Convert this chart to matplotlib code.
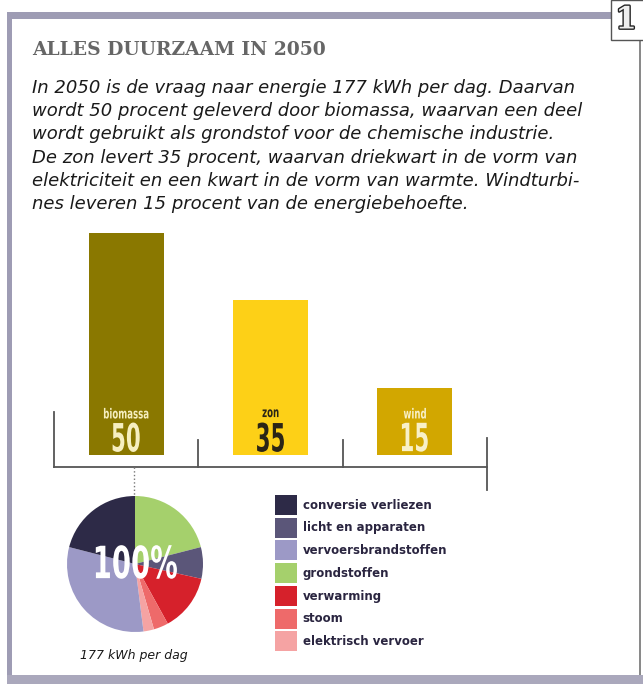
import matplotlib.pyplot as plt
import matplotlib.patheffects as pe
from matplotlib.patches import Rectangle, PathPatch
from matplotlib.textpath import TextPath
from matplotlib.font_manager import FontProperties
from matplotlib.transforms import Affine2D, ScaledTranslation

W, H = 643, 684

# staafdiagram: energiebronnen 2050 (procent)
bronnen = ['biomassa', 'zon', 'wind']
aandeel = [50, 35, 15]
bar_kleur = ['#8a7800', '#fdd017', '#d2a700']
label_kleur = ['#f6efc0', '#2b2516', '#f8f0c8']

# taartdiagram: gebruik van 177 kWh per dag (procent)
posten = ['conversie verliezen', 'licht en apparaten', 'vervoersbrandstoffen',
          'grondstoffen', 'verwarming', 'stoom', 'elektrisch vervoer']
procent = [21, 7.5, 31, 21, 13.5, 3.5, 2.5]
pie_kleur = ['#2d2a47', '#5b5679', '#9c99c6', '#a5d06c', '#d6212b', '#ee6a6a', '#f5a3a3']
volgorde = [3, 1, 4, 5, 6, 2, 0]  # met de klok mee vanaf 12 uur

titel = 'ALLES DUURZAAM IN 2050'
tekst = ['In 2050 is de vraag naar energie 177 kWh per dag. Daarvan',
         'wordt 50 procent geleverd door biomassa, waarvan een deel',
         'wordt gebruikt als grondstof voor de chemische industrie.',
         'De zon levert 35 procent, waarvan driekwart in de vorm van',
         'elektriciteit en een kwart in de vorm van warmte. Windturbi-',
         'nes leveren 15 procent van de energiebehoefte.']


def box(l, t, r, b):
    return [l / W, 1 - b / H, (r - l) / W, (b - t) / H]


def smalle_tekst(fig, ax, x, y, s, size, color, sx=0.6, weight='normal'):
    # geen condensed font aanwezig, dus het pad zelf horizontaal samendrukken
    tp = TextPath((0, 0), s, size=size, prop=FontProperties(family='DejaVu Sans', weight=weight))
    bb = tp.get_extents()
    k = fig.dpi / 72
    tr = (Affine2D().translate(-(bb.x0 + bb.x1) / 2, -(bb.y0 + bb.y1) / 2).scale(sx * k, k)
          + ScaledTranslation(x, y, ax.transData))
    fig.add_artist(PathPatch(tp, transform=tr, facecolor=color, lw=0, zorder=5))


fig = plt.figure(figsize=(W / 100, H / 100), dpi=100)
fig.patch.set_facecolor('white')

# lijst / frame
for l, t, r, b, c in [(7, 12, 612, 19, '#9e9cb4'), (7, 14, 12, 684, '#9e9cb4'),
                      (7, 675, 643, 684, '#aaa8bc'), (639, 40, 641, 675, '#8a8a8a')]:
    fig.add_artist(Rectangle((l / W, 1 - b / H), (r - l) / W, (b - t) / H,
                             transform=fig.transFigure, color=c, lw=0))
fig.add_artist(Rectangle((611 / W, 1 - 40 / H), 40 / W, 40 / H, transform=fig.transFigure,
                         facecolor='white', edgecolor='#555555', lw=1))
fig.text(626 / W, 1 - 20 / H, '1', family='DejaVu Serif', weight='bold', fontsize=22,
         color='#eeeeee', ha='center', va='center',
         path_effects=[pe.withStroke(linewidth=2, foreground='#222222')])

fig.text(32 / W, 1 - 50 / H, titel, family='DejaVu Serif', weight='bold', fontsize=13.5,
         color='#666666', va='center')
fig.text(32 / W, 1 - 79 / H, '\n'.join(tekst), family='DejaVu Sans', style='italic',
         fontsize=13, color='#1a1a1a', va='top', linespacing=1.37)

# staven
px = 4.44  # pixels per procent
ax = fig.add_axes(box(54, 225, 487, 490))
ax.set_xlim(0, 3)
ax.set_ylim((455 - 490) / px, (455 - 225) / px)
ax.axis('off')
xs = [i + 0.5 for i in range(len(bronnen))]
ax.bar(xs, aandeel, width=0.52, color=bar_kleur, lw=0)
for x, naam, v, c in zip(xs, bronnen, aandeel, label_kleur):
    smalle_tekst(fig, ax, x, 9.4, naam, 10, c, sx=0.62, weight='bold')
    smalle_tekst(fig, ax, x, 4.0, str(v), 28, c, sx=0.55, weight='bold')
y0 = -12 / px
ax.plot([0, 3], [y0, y0], color='#555555', lw=1.3, clip_on=False)
ax.plot([0, 0], [y0, 9.7], color='#555555', lw=1.3, clip_on=False)
for x in (1, 2):
    ax.plot([x, x], [y0, 3.4], color='#555555', lw=1.3, clip_on=False)
ax.plot([3, 3], [-7.9, 3.8], color='#555555', lw=1.3, clip_on=False)
ax.plot([0.554, 0.554], [y0, (455 - 497) / px], color='#777777', lw=1, ls=':', clip_on=False)

# taart
pax = fig.add_axes(box(67, 496, 203, 632))
wedges, _ = pax.pie([procent[i] for i in volgorde], colors=[pie_kleur[i] for i in volgorde],
                    startangle=90, counterclock=False, radius=1,
                    wedgeprops=dict(linewidth=0))
pax.set_xlim(-1, 1)
pax.set_ylim(-1, 1)
pax.set_aspect('equal')
smalle_tekst(fig, pax, 0.02, 0.03, '100%', 32, 'white', sx=0.62, weight='bold')
fig.text(134 / W, 1 - 655 / H, '177 kWh per dag', ha='center', va='center',
         family='DejaVu Sans', style='italic', fontsize=9, color='#1a1a1a')

handles = [wedges[volgorde.index(i)] for i in range(len(posten))]
leg = fig.legend(handles, posten, loc='upper left', bbox_to_anchor=(275 / W, 1 - 495 / H),
                 frameon=False, fontsize=8.5, handlelength=1.86, handleheight=2.23,
                 labelspacing=0.23, handletextpad=0.5, borderpad=0, borderaxespad=0)
for t in leg.get_texts():
    t.set_weight('bold')
    t.set_color('#2a2540')

fig.savefig('out.png', dpi=100)
